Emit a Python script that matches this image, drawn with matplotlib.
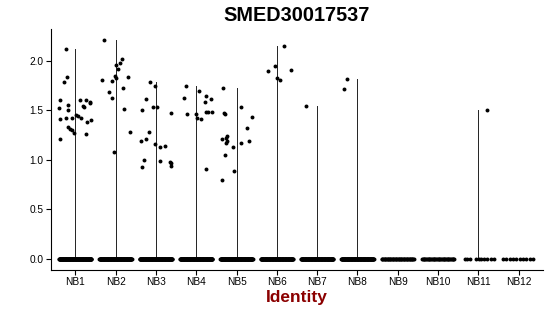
import numpy as np
import matplotlib
matplotlib.use("Agg")
import matplotlib.pyplot as plt

plt.rcParams['font.family'] = ['Liberation Sans', 'DejaVu Sans']

gene = "SMED30017537"
clusters = ["NB1", "NB2", "NB3", "NB4", "NB5", "NB6",
            "NB7", "NB8", "NB9", "NB10", "NB11", "NB12"]

# expressing cells per cluster: (jitter offset, expression)
nb1 = [(-0.38, 1.21), (-0.38, 1.41), (-0.39, 1.52), (-0.37, 1.60), (-0.29, 1.78),
       (-0.22, 2.12), (-0.20, 1.84), (-0.19, 1.55), (-0.17, 1.50), (-0.24, 1.42),
       (-0.18, 1.33), (-0.14, 1.31), (-0.09, 1.30), (-0.09, 1.42), (-0.04, 1.27),
       (0.02, 1.45), (0.08, 1.44), (0.14, 1.42), (0.12, 1.60), (0.19, 1.54),
       (0.21, 1.53), (0.26, 1.60), (0.29, 1.38), (0.28, 1.26), (0.36, 1.57),
       (0.36, 1.58), (0.39, 1.40)]
nb2 = [(-0.28, 2.21), (-0.34, 1.80), (-0.16, 1.68), (-0.09, 1.79), (-0.08, 1.62),
       (-0.03, 1.08), (-0.02, 1.85), (0.02, 1.82), (0.01, 1.96), (0.07, 1.92),
       (0.12, 1.98), (0.17, 2.02), (0.19, 1.72), (0.21, 1.51), (0.31, 1.83),
       (0.36, 1.28)]
nb3 = [(-0.38, 1.19), (-0.35, 0.93), (-0.34, 1.50), (-0.29, 1.00), (-0.25, 1.21),
       (-0.24, 1.61), (-0.16, 1.28), (-0.15, 1.78), (-0.06, 1.53), (-0.03, 1.74),
       (-0.02, 1.16), (0.03, 1.53), (0.10, 0.99), (0.11, 1.13), (0.22, 1.14),
       (0.36, 0.98), (0.38, 1.47), (0.38, 0.94), (0.38, 0.97)]
nb4 = [(-0.31, 1.62), (-0.26, 1.74), (-0.22, 1.46), (0.00, 1.46), (0.01, 1.42),
       (0.07, 1.69), (0.12, 1.41), (0.21, 1.58), (0.24, 1.64), (0.24, 1.48),
       (0.25, 0.91), (0.30, 1.48), (0.37, 1.61), (0.39, 1.48)]
nb5 = [(-0.36, 1.21), (-0.36, 0.79), (-0.34, 1.72), (-0.31, 1.47), (-0.29, 1.46),
       (-0.29, 1.05), (-0.25, 1.22), (-0.24, 1.19), (-0.26, 1.17), (-0.23, 1.24),
       (-0.08, 1.13), (-0.06, 0.89), (0.10, 1.17), (0.11, 1.53), (0.25, 1.32),
       (0.31, 1.19), (0.39, 1.43)]
nb6 = [(-0.23, 1.90), (-0.05, 1.95), (0.00, 1.82), (0.08, 1.80), (0.17, 2.15),
       (0.34, 1.91)]
nb7 = [(-0.28, 1.54)]
nb8 = [(-0.33, 1.71), (-0.26, 1.81)]
nb9 = []
nb10 = []
nb11 = [(0.21, 1.50)]
nb12 = []
expressing = [nb1, nb2, nb3, nb4, nb5, nb6, nb7, nb8, nb9, nb10, nb11, nb12]

# cells with zero expression (approximate counts)
zero_counts = [140, 140, 140, 140, 140, 120, 120, 120, 45, 40, 0, 0]
# sparse clusters: explicit offsets of zero cells
zero_offsets_nb11 = [-0.34, -0.28, -0.22, -0.05, 0.02, 0.07, 0.13, 0.21, 0.30, 0.38]
zero_offsets_nb12 = [-0.40, -0.32, -0.22, -0.14, -0.07, 0.03, 0.11, 0.19, 0.28, 0.34]

fig = plt.figure(figsize=(5.5, 3.16), dpi=100)
ax = fig.add_axes([51 / 550, 1 - 269.5 / 316, 492 / 550, 240.5 / 316])

for i, pts in enumerate(expressing):
    if zero_counts[i] > 0:
        zx = np.linspace(-0.4, 0.4, zero_counts[i])
    elif i == 10:
        zx = np.array(zero_offsets_nb11)
    else:
        zx = np.array(zero_offsets_nb12)
    ax.scatter(i + zx, np.zeros(len(zx)), s=8, c='black', linewidths=0, zorder=3)
    if pts:
        off = np.array([p[0] for p in pts])
        val = np.array([p[1] for p in pts])
        ax.plot([i, i], [0, val.max()], color='#222222', lw=0.7, zorder=2)
        ax.scatter(i + off, val, s=8, c='black', linewidths=0, zorder=3)

ax.set_xlim(-0.6, len(clusters) - 0.4)
ax.set_ylim(-0.11, 2.32)
ax.set_xticks(range(len(clusters)))
ax.set_xticklabels(clusters)
ax.set_yticks([0, 0.5, 1.0, 1.5, 2.0])
ax.set_yticklabels(["0.0", "0.5", "1.0", "1.5", "2.0"])
for s in ['top', 'right']:
    ax.spines[s].set_visible(False)
for s in ['left', 'bottom']:
    ax.spines[s].set_linewidth(0.8)
ax.tick_params(axis='both', length=3.5, width=0.8, labelsize=7.3, colors='black', pad=2)

ax.set_xlabel("Identity", fontsize=12.5, fontweight='bold', color='#8B0000', labelpad=2)
fig.text(297 / 550, 1 - 15.5 / 316, gene, ha='center', va='center',
         fontsize=14.3, fontweight='bold')

fig.savefig("out.png", dpi=100)
